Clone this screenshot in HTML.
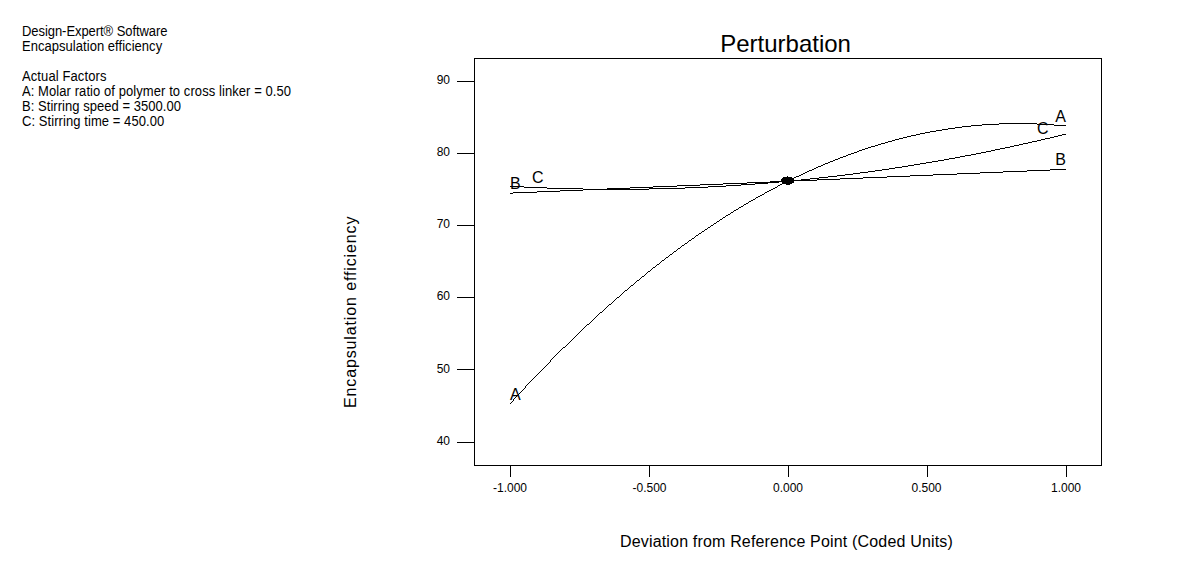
<!DOCTYPE html>
<html><head><meta charset="utf-8"><style>
html,body{margin:0;padding:0;background:#fff;}
body{width:1187px;height:576px;position:relative;overflow:hidden;font-family:"Liberation Sans",sans-serif;color:#000;}
</style></head><body>
<svg width="1187" height="576" style="position:absolute;left:0;top:0">
<g shape-rendering="crispEdges" stroke="#000" stroke-width="1" fill="none">
<rect x="474.5" y="58.5" width="627" height="407"/>
<line x1="457" y1="81.5" x2="474" y2="81.5"/><line x1="457" y1="153.5" x2="474" y2="153.5"/><line x1="457" y1="225.5" x2="474" y2="225.5"/><line x1="457" y1="297.5" x2="474" y2="297.5"/><line x1="457" y1="369.5" x2="474" y2="369.5"/><line x1="457" y1="442.5" x2="474" y2="442.5"/>
<line x1="510.5" y1="466" x2="510.5" y2="477"/><line x1="649.5" y1="466" x2="649.5" y2="477"/><line x1="788.5" y1="466" x2="788.5" y2="477"/><line x1="927.5" y1="466" x2="927.5" y2="477"/><line x1="1066.5" y1="466" x2="1066.5" y2="477"/>
</g>
<path d="M999 123h38v1h-38zM982 124h17v1h-17zM1037 124h17v1h-17zM971 125h11v1h-11zM1054 125h12v1h-12zM962 126h9v1h-9zM955 127h7v1h-7zM948 128h7v1h-7zM942 129h6v1h-6zM936 130h6v1h-6zM930 131h6v1h-6zM925 132h5v1h-5zM920 133h5v1h-5zM916 134h4v1h-4zM1062 134h4v1h-4zM911 135h5v1h-5zM1058 135h4v1h-4zM907 136h4v1h-4zM1054 136h4v1h-4zM903 137h4v1h-4zM1050 137h4v1h-4zM899 138h4v1h-4zM1045 138h5v1h-5zM895 139h4v1h-4zM1041 139h4v1h-4zM892 140h3v1h-3zM1037 140h4v1h-4zM888 141h4v1h-4zM1032 141h5v1h-5zM885 142h3v1h-3zM1028 142h4v1h-4zM881 143h4v1h-4zM1023 143h5v1h-5zM878 144h3v1h-3zM1019 144h4v1h-4zM875 145h3v1h-3zM1014 145h5v1h-5zM871 146h4v1h-4zM1010 146h4v1h-4zM868 147h3v1h-3zM1005 147h5v1h-5zM865 148h3v1h-3zM1000 148h5v1h-5zM862 149h3v1h-3zM995 149h5v1h-5zM859 150h3v1h-3zM991 150h4v1h-4zM857 151h2v1h-2zM986 151h5v1h-5zM854 152h3v1h-3zM981 152h5v1h-5zM851 153h3v1h-3zM976 153h5v1h-5zM848 154h3v1h-3zM971 154h5v1h-5zM846 155h2v1h-2zM965 155h6v1h-6zM843 156h3v1h-3zM960 156h5v1h-5zM840 157h3v1h-3zM955 157h5v1h-5zM838 158h2v1h-2zM949 158h6v1h-6zM835 159h3v1h-3zM944 159h5v1h-5zM833 160h2v1h-2zM938 160h6v1h-6zM830 161h3v1h-3zM932 161h6v1h-6zM828 162h2v1h-2zM926 162h6v1h-6zM825 163h3v1h-3zM920 163h6v1h-6zM823 164h2v1h-2zM914 164h6v1h-6zM821 165h2v1h-2zM908 165h6v1h-6zM818 166h3v1h-3zM902 166h6v1h-6zM816 167h2v1h-2zM895 167h7v1h-7zM814 168h2v1h-2zM889 168h6v1h-6zM812 169h2v1h-2zM882 169h7v1h-7zM1050 169h16v1h-16zM809 170h3v1h-3zM875 170h7v1h-7zM1027 170h23v1h-23zM807 171h2v1h-2zM868 171h7v1h-7zM1003 171h24v1h-24zM805 172h2v1h-2zM860 172h8v1h-8zM980 172h23v1h-23zM803 173h2v1h-2zM853 173h7v1h-7zM957 173h23v1h-23zM801 174h2v1h-2zM845 174h8v1h-8zM933 174h24v1h-24zM799 175h2v1h-2zM837 175h8v1h-8zM910 175h23v1h-23zM787 176h1v1h-1zM796 176h3v1h-3zM828 176h9v1h-9zM887 176h23v1h-23zM783 177h9v1h-9zM794 177h2v1h-2zM819 177h9v1h-9zM863 177h24v1h-24zM782 178h12v1h-12zM810 178h9v1h-9zM840 178h23v1h-23zM781 179h13v1h-13zM801 179h9v1h-9zM817 179h23v1h-23zM781 180h36v1h-36zM770 181h24v1h-24zM747 182h32v1h-32zM782 182h12v1h-12zM723 183h24v1h-24zM755 183h13v1h-13zM782 183h10v1h-10zM700 184h23v1h-23zM741 184h14v1h-14zM780 184h2v1h-2zM786 184h4v1h-4zM677 185h23v1h-23zM726 185h15v1h-15zM778 185h2v1h-2zM510 186h14v1h-14zM653 186h24v1h-24zM708 186h18v1h-18zM777 186h1v1h-1zM524 187h23v1h-23zM630 187h23v1h-23zM685 187h23v1h-23zM775 187h2v1h-2zM547 188h36v1h-36zM607 188h23v1h-23zM649 188h36v1h-36zM773 188h2v1h-2zM583 189h66v1h-66zM771 189h2v1h-2zM560 190h23v1h-23zM769 190h2v1h-2zM537 191h23v1h-23zM767 191h2v1h-2zM513 192h24v1h-24zM765 192h2v1h-2zM510 193h3v1h-3zM764 193h1v1h-1zM762 194h2v1h-2zM760 195h2v1h-2zM758 196h2v1h-2zM756 197h2v1h-2zM755 198h1v1h-1zM753 199h2v1h-2zM751 200h2v1h-2zM749 201h2v1h-2zM748 202h1v1h-1zM746 203h2v1h-2zM744 204h2v1h-2zM743 205h1v1h-1zM741 206h2v1h-2zM739 207h2v1h-2zM738 208h1v1h-1zM736 209h2v1h-2zM734 210h2v1h-2zM733 211h1v1h-1zM731 212h2v1h-2zM730 213h1v1h-1zM728 214h2v1h-2zM726 215h2v1h-2zM725 216h1v1h-1zM723 217h2v1h-2zM722 218h1v1h-1zM720 219h2v1h-2zM719 220h1v1h-1zM717 221h2v1h-2zM716 222h1v1h-1zM714 223h2v1h-2zM713 224h1v1h-1zM711 225h2v1h-2zM710 226h1v1h-1zM708 227h2v1h-2zM707 228h1v1h-1zM705 229h2v1h-2zM704 230h1v1h-1zM702 231h2v1h-2zM701 232h1v1h-1zM699 233h2v1h-2zM698 234h1v1h-1zM696 235h2v1h-2zM695 236h1v1h-1zM694 237h1v1h-1zM692 238h2v1h-2zM691 239h1v1h-1zM689 240h2v1h-2zM688 241h1v1h-1zM687 242h1v1h-1zM685 243h2v1h-2zM684 244h1v1h-1zM682 245h2v1h-2zM681 246h1v1h-1zM680 247h1v1h-1zM678 248h2v1h-2zM677 249h1v1h-1zM676 250h1v1h-1zM674 251h2v1h-2zM673 252h1v1h-1zM672 253h1v1h-1zM670 254h2v1h-2zM669 255h1v1h-1zM668 256h1v1h-1zM666 257h2v1h-2zM665 258h1v1h-1zM664 259h1v1h-1zM662 260h2v1h-2zM661 261h1v1h-1zM660 262h1v1h-1zM659 263h1v1h-1zM657 264h2v1h-2zM656 265h1v1h-1zM655 266h1v1h-1zM653 267h2v1h-2zM652 268h1v1h-1zM651 269h1v1h-1zM650 270h1v1h-1zM648 271h2v1h-2zM647 272h1v1h-1zM646 273h1v1h-1zM645 274h1v1h-1zM644 275h1v1h-1zM642 276h2v1h-2zM641 277h1v1h-1zM640 278h1v1h-1zM639 279h1v1h-1zM637 280h2v1h-2zM636 281h1v1h-1zM635 282h1v1h-1zM634 283h1v1h-1zM633 284h1v1h-1zM631 285h2v1h-2zM630 286h1v1h-1zM629 287h1v1h-1zM628 288h1v1h-1zM627 289h1v1h-1zM625 290h2v1h-2zM624 291h1v1h-1zM623 292h1v1h-1zM622 293h1v1h-1zM621 294h1v1h-1zM620 295h1v1h-1zM619 296h1v1h-1zM617 297h2v1h-2zM616 298h1v1h-1zM615 299h1v1h-1zM614 300h1v1h-1zM613 301h1v1h-1zM612 302h1v1h-1zM611 303h1v1h-1zM609 304h2v1h-2zM608 305h1v1h-1zM607 306h1v1h-1zM606 307h1v1h-1zM605 308h1v1h-1zM604 309h1v1h-1zM603 310h1v1h-1zM602 311h1v1h-1zM600 312h2v1h-2zM599 313h1v1h-1zM598 314h1v1h-1zM597 315h1v1h-1zM596 316h1v1h-1zM595 317h1v1h-1zM594 318h1v1h-1zM593 319h1v1h-1zM592 320h1v1h-1zM591 321h1v1h-1zM590 322h1v1h-1zM589 323h1v1h-1zM587 324h2v1h-2zM586 325h1v1h-1zM585 326h1v1h-1zM584 327h1v1h-1zM583 328h1v1h-1zM582 329h1v1h-1zM581 330h1v1h-1zM580 331h1v1h-1zM579 332h1v1h-1zM578 333h1v1h-1zM577 334h1v1h-1zM576 335h1v1h-1zM575 336h1v1h-1zM574 337h1v1h-1zM573 338h1v1h-1zM572 339h1v1h-1zM571 340h1v1h-1zM570 341h1v1h-1zM569 342h1v1h-1zM568 343h1v1h-1zM567 344h1v1h-1zM566 345h1v1h-1zM565 346h1v1h-1zM563 347h2v1h-2zM562 348h1v1h-1zM561 349h1v1h-1zM560 350h1v1h-1zM559 351h1v1h-1zM558 352h1v1h-1zM557 353h1v1h-1zM556 354h1v1h-1zM555 355h1v1h-1zM554 356h1v1h-1zM553 357h1v1h-1zM552 358h1v1h-1zM551 359h1v1h-1zM550 360h1v1h-1zM550 361h1v1h-1zM549 362h1v1h-1zM548 363h1v1h-1zM547 364h1v1h-1zM546 365h1v1h-1zM545 366h1v1h-1zM544 367h1v1h-1zM543 368h1v1h-1zM542 369h1v1h-1zM541 370h1v1h-1zM540 371h1v1h-1zM539 372h1v1h-1zM538 373h1v1h-1zM537 374h1v1h-1zM536 375h1v1h-1zM535 376h1v1h-1zM534 377h1v1h-1zM533 378h1v1h-1zM532 379h1v1h-1zM531 380h1v1h-1zM530 381h1v1h-1zM529 382h1v1h-1zM528 383h1v1h-1zM527 384h1v1h-1zM526 385h1v1h-1zM525 386h1v1h-1zM525 387h1v1h-1zM524 388h1v1h-1zM523 389h1v1h-1zM522 390h1v1h-1zM521 391h1v1h-1zM520 392h1v1h-1zM519 393h1v1h-1zM518 394h1v1h-1zM517 395h1v1h-1zM516 396h1v1h-1zM515 397h1v1h-1zM514 398h1v1h-1zM513 399h1v1h-1zM513 400h1v1h-1zM512 401h1v1h-1zM511 402h1v1h-1zM510 403h1v1h-1z" fill="#000" shape-rendering="crispEdges"/>
</svg>
<div style="position:absolute;left:22px;top:25.00px;font-size:13px;line-height:13px;white-space:nowrap;letter-spacing:-0.06px;transform:scaleY(1.1);transform-origin:0 11.00px">Design-Expert&reg; Software</div><div style="position:absolute;left:22px;top:40.00px;font-size:13px;line-height:13px;white-space:nowrap;letter-spacing:0.04px;transform:scaleY(1.1);transform-origin:0 11.00px">Encapsulation efficiency</div><div style="position:absolute;left:22px;top:70.00px;font-size:13px;line-height:13px;white-space:nowrap;letter-spacing:0.1px;transform:scaleY(1.1);transform-origin:0 11.00px">Actual Factors</div><div style="position:absolute;left:22px;top:85.00px;font-size:13px;line-height:13px;white-space:nowrap;letter-spacing:0.075px;transform:scaleY(1.1);transform-origin:0 11.00px">A: Molar ratio of polymer to cross linker = 0.50</div><div style="position:absolute;left:22px;top:100.00px;font-size:13px;line-height:13px;white-space:nowrap;letter-spacing:0.04px;transform:scaleY(1.1);transform-origin:0 11.00px">B: Stirring speed = 3500.00</div><div style="position:absolute;left:22px;top:115.00px;font-size:13px;line-height:13px;white-space:nowrap;letter-spacing:0.07px;transform:scaleY(1.1);transform-origin:0 11.00px">C: Stirring time = 450.00</div><div style="position:absolute;left:720.2px;top:31.68px;font-size:24px;line-height:24px;white-space:nowrap;">Perturbation</div><div style="position:absolute;right:737px;top:73.84px;font-size:12px;line-height:12px;white-space:nowrap;text-align:right;">90</div><div style="position:absolute;right:737px;top:145.84px;font-size:12px;line-height:12px;white-space:nowrap;text-align:right;">80</div><div style="position:absolute;right:737px;top:217.84px;font-size:12px;line-height:12px;white-space:nowrap;text-align:right;">70</div><div style="position:absolute;right:737px;top:289.84px;font-size:12px;line-height:12px;white-space:nowrap;text-align:right;">60</div><div style="position:absolute;right:737px;top:362.84px;font-size:12px;line-height:12px;white-space:nowrap;text-align:right;">50</div><div style="position:absolute;right:737px;top:434.84px;font-size:12px;line-height:12px;white-space:nowrap;text-align:right;">40</div><div style="position:absolute;left:410.0px;width:200px;top:481.84px;font-size:12px;line-height:12px;white-space:nowrap;text-align:center;">-1.000</div><div style="position:absolute;left:549.5px;width:200px;top:481.84px;font-size:12px;line-height:12px;white-space:nowrap;text-align:center;">-0.500</div><div style="position:absolute;left:688.0px;width:200px;top:481.84px;font-size:12px;line-height:12px;white-space:nowrap;text-align:center;">0.000</div><div style="position:absolute;left:826.5px;width:200px;top:481.84px;font-size:12px;line-height:12px;white-space:nowrap;text-align:center;">0.500</div><div style="position:absolute;left:966.0px;width:200px;top:481.84px;font-size:12px;line-height:12px;white-space:nowrap;text-align:center;">1.000</div><div style="position:absolute;left:620px;top:534.46px;font-size:16px;line-height:16px;white-space:nowrap;letter-spacing:0.17px">Deviation from Reference Point (Coded Units)</div><div style="position:absolute;left:357px;top:407.7px;width:0;height:0"><div style="position:absolute;left:0;top:0;transform-origin:0 0;transform:rotate(-90deg);"><div style="position:absolute;left:0;top:-13.54px;font-size:16px;line-height:16px;white-space:nowrap;letter-spacing:0.87px">Encapsulation efficiency</div></div></div><div style="position:absolute;left:510px;top:387.46px;font-size:16px;line-height:16px;white-space:nowrap;">A</div><div style="position:absolute;left:510px;top:176.46px;font-size:16px;line-height:16px;white-space:nowrap;">B</div><div style="position:absolute;left:532px;top:170.46px;font-size:16px;line-height:16px;white-space:nowrap;">C</div><div style="position:absolute;right:121px;top:109.46px;font-size:16px;line-height:16px;white-space:nowrap;text-align:right;">A</div><div style="position:absolute;right:138.5px;top:120.96px;font-size:16px;line-height:16px;white-space:nowrap;text-align:right;">C</div><div style="position:absolute;right:121px;top:152.46px;font-size:16px;line-height:16px;white-space:nowrap;text-align:right;">B</div>
</body></html>
